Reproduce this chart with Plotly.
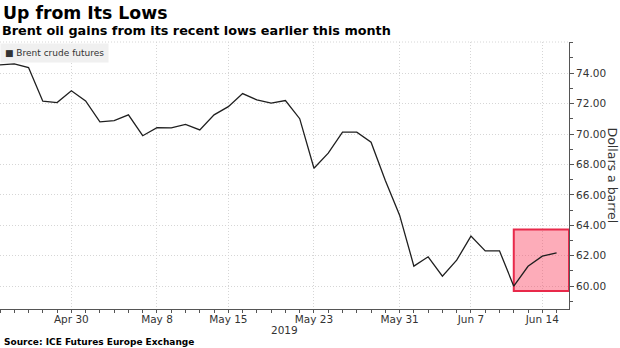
import plotly.graph_objects as go

# Brent crude futures, daily settlements (weekdays only)
dates = [
    "2019-04-23", "2019-04-24", "2019-04-25", "2019-04-26", "2019-04-29", "2019-04-30",
    "2019-05-01", "2019-05-02", "2019-05-03", "2019-05-06", "2019-05-07", "2019-05-08",
    "2019-05-09", "2019-05-10", "2019-05-13", "2019-05-14", "2019-05-15", "2019-05-16",
    "2019-05-17", "2019-05-20", "2019-05-21", "2019-05-22", "2019-05-23", "2019-05-24",
    "2019-05-27", "2019-05-28", "2019-05-29", "2019-05-30", "2019-05-31", "2019-06-03",
    "2019-06-04", "2019-06-05", "2019-06-06", "2019-06-07", "2019-06-10", "2019-06-11",
    "2019-06-12", "2019-06-13", "2019-06-14", "2019-06-17",
]
brent = [
    74.55, 74.61, 74.37, 72.16, 72.07, 72.84,
    72.18, 70.80, 70.88, 71.26, 69.89, 70.42,
    70.40, 70.64, 70.27, 71.26, 71.80, 72.66,
    72.24, 72.03, 72.20, 71.01, 67.75, 68.74,
    70.12, 70.12, 69.46, 66.95, 64.67, 61.32,
    61.93, 60.66, 61.71, 63.29, 62.32, 62.32,
    60.00, 61.31, 61.97, 62.19,
]

tick_dates = ["2019-04-30", "2019-05-08", "2019-05-15", "2019-05-23",
              "2019-05-31", "2019-06-07", "2019-06-14"]
tick_labels = ["Apr 30", "May 8", "May 15", "May 23", "May 31", "Jun 7", "Jun 14"]
y_ticks = [60, 62, 64, 66, 68, 70, 72, 74]

# highlighted rebound window
highlight_start = "2019-06-12"
highlight_low = 59.69
highlight_high = 63.73

x_range = [0, 39.87]
y_range = [58.5, 76.05]

x_idx = list(range(len(dates)))
tick_pos = [dates.index(d) for d in tick_dates]

FONT = "DejaVu Sans"
AXIS = "#555555"
GRID = "#d6d6d6"
GRID_DASH = "1px,2px"

fig = go.Figure()
fig.add_trace(go.Scatter(
    x=x_idx, y=brent, mode="lines",
    line=dict(color="#1f1f1f", width=1.3),
    showlegend=False, hoverinfo="skip",
))

fig.add_shape(
    type="rect", xref="x", yref="y",
    x0=dates.index(highlight_start), x1=x_range[1],
    y0=highlight_low, y1=highlight_high,
    line=dict(color="#e8294a", width=2),
    fillcolor="rgba(250,70,100,0.45)",
    layer="between",
)
# dotted top frame of the plotting area
fig.add_shape(
    type="line", xref="paper", yref="paper", x0=0, x1=1, y0=1, y1=1,
    line=dict(color=GRID, width=1, dash=GRID_DASH), layer="below",
)

annotations = [
    dict(text="<b>Up from Its Lows</b>", x=0, y=1.107, xanchor="left", yanchor="middle",
         font=dict(family=FONT, size=17.3, color="#000000"), xshift=1),
    dict(text="<b>Brent oil gains from its recent lows earlier this month</b>", x=0, y=1.042,
         xanchor="left", yanchor="middle", font=dict(family=FONT, size=12.8, color="#000000")),
    dict(text="<b>Source: ICE Futures Europe Exchange</b>", x=0, y=-0.124, xanchor="left",
         yanchor="middle", font=dict(family=FONT, size=9, color="#000000"), xshift=2),
    dict(text="2019", x=0.5, y=-0.077, xanchor="center", yanchor="middle",
         font=dict(family=FONT, size=10.5, color="#333333")),
    dict(text="Dollars a barrel", x=1, y=0.5, xanchor="center", yanchor="middle",
         textangle=90, xshift=43, font=dict(family=FONT, size=12.5, color="#333333")),
    dict(text="■ Brent crude futures", x=0, y=1, xanchor="left", yanchor="top",
         bgcolor="#f0f0f0", borderpad=4, yshift=-1,
         font=dict(family=FONT, size=9, color="#333333")),
]
for a in annotations:
    a.setdefault("xref", "paper")
    a.setdefault("yref", "paper")
    a["showarrow"] = False

fig.update_layout(
    width=620, height=348,
    margin=dict(l=0, r=51, t=42, b=39),
    paper_bgcolor="white", plot_bgcolor="white",
    showlegend=False,
    annotations=annotations,
    xaxis=dict(
        range=x_range, tickmode="array", tickvals=tick_pos, ticktext=tick_labels,
        ticks="outside", ticklen=0, tickcolor=AXIS,
        showline=True, linecolor=AXIS, linewidth=1,
        showgrid=True, gridcolor=GRID, griddash=GRID_DASH, gridwidth=1,
        zeroline=False,
        tickfont=dict(family=FONT, size=10.5, color="#333333"),
        minor=dict(tickmode="linear", tick0=0, dtick=1, ticks="outside",
                   ticklen=3, tickcolor=AXIS, showgrid=False),
    ),
    yaxis=dict(
        side="right", range=y_range, tickmode="array", tickvals=y_ticks,
        tickformat=".2f",
        ticks="outside", ticklen=4, tickcolor=AXIS,
        showline=True, linecolor=AXIS, linewidth=1,
        showgrid=True, gridcolor=GRID, griddash=GRID_DASH, gridwidth=1,
        zeroline=False,
        tickfont=dict(family=FONT, size=10.5, color="#333333"),
        minor=dict(tickmode="linear", tick0=0, dtick=1, ticks="outside",
                   ticklen=3, tickcolor=AXIS, showgrid=False),
    ),
)

fig.write_html("out.html")
